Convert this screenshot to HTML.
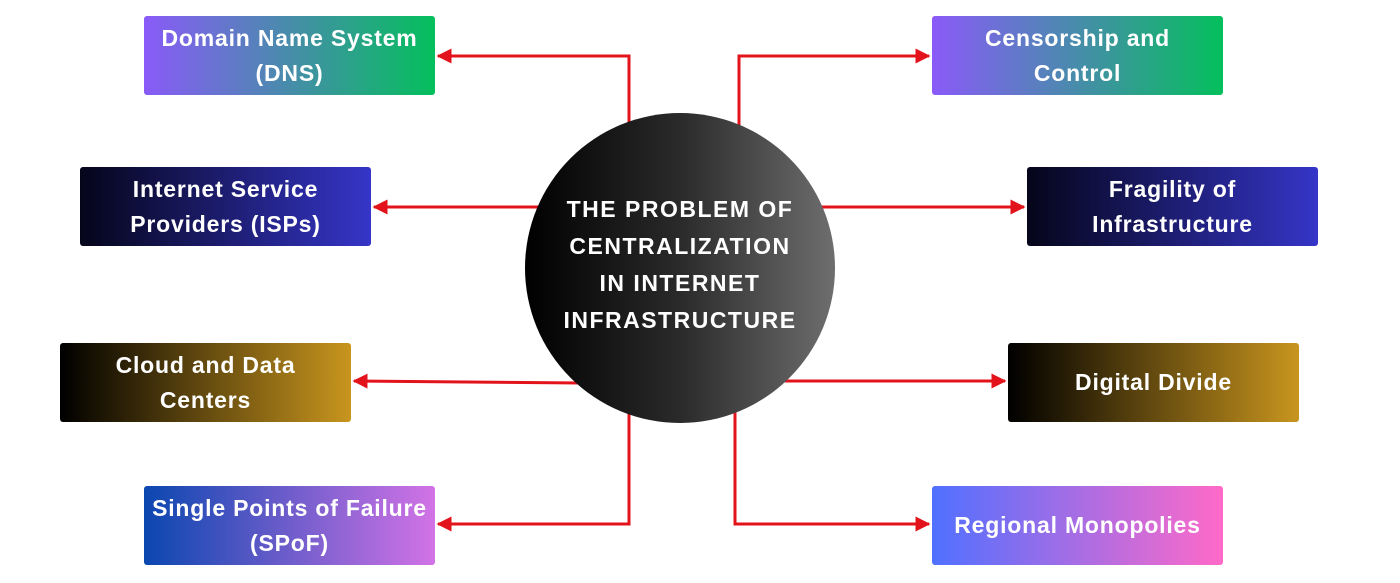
<!DOCTYPE html>
<html><head><style>
body{margin:0;width:1400px;height:583px;background:#fff;position:relative;overflow:hidden;font-family:"Liberation Sans",sans-serif}
.b{position:absolute;width:291px;height:79px;border-radius:3px;color:#fff;font-weight:bold;font-size:23px;display:flex;align-items:center;justify-content:center;text-align:center;line-height:35px;letter-spacing:.8px}
.c{position:absolute;left:525px;top:113px;width:310px;height:310px;border-radius:50%;background:linear-gradient(90deg,#000 0%,#2a2a2a 50%,#6e6e6e 100%);color:#fff;font-weight:bold;font-size:23px;letter-spacing:1.5px;display:flex;align-items:center;justify-content:center;text-align:center;line-height:37px;padding-bottom:6px;box-sizing:border-box}
svg{position:absolute;left:0;top:0}
</style></head><body>
<svg width="1400" height="583">
<defs><marker id="a" markerWidth="5" markerHeight="5" refX="4.5" refY="2.5" orient="auto" markerUnits="strokeWidth"><path d="M0,0L5,2.5L0,5z" fill="#e3131b"/></marker></defs>
<g stroke="#e3131b" stroke-width="3" fill="none" marker-end="url(#a)">
<path d="M629,125V56H438"/>
<path d="M540,207H374"/>
<path d="M580,383L354,381"/>
<path d="M629,410V524H438"/>
<path d="M739,125V56H929"/>
<path d="M820,207H1024"/>
<path d="M780,381H1005"/>
<path d="M735,410V524H929"/>
</g></svg>
<div class="b" style="left:144px;top:16px;background:linear-gradient(90deg,#8a5af8,#04bf5c)">Domain Name System<br>(DNS)</div>
<div class="b" style="left:80px;top:167px;background:linear-gradient(90deg,#05051a,#3535c8)">Internet Service<br>Providers (ISPs)</div>
<div class="b" style="left:60px;top:343px;background:linear-gradient(90deg,#000,#c8951e)">Cloud and Data<br>Centers</div>
<div class="b" style="left:144px;top:486px;background:linear-gradient(90deg,#0b47b0,#d273e6)">Single Points of Failure<br>(SPoF)</div>
<div class="b" style="left:932px;top:16px;background:linear-gradient(90deg,#8a5af8,#04bf5c)">Censorship and<br>Control</div>
<div class="b" style="left:1027px;top:167px;background:linear-gradient(90deg,#05051a,#3535c8)">Fragility of<br>Infrastructure</div>
<div class="b" style="left:1008px;top:343px;background:linear-gradient(90deg,#000,#c8951e)">Digital Divide</div>
<div class="b" style="left:932px;top:486px;background:linear-gradient(90deg,#5070ff,#ff6ac8)">Regional Monopolies</div>
<div class="c">THE PROBLEM OF<br>CENTRALIZATION<br>IN INTERNET<br>INFRASTRUCTURE</div>
</body></html>
